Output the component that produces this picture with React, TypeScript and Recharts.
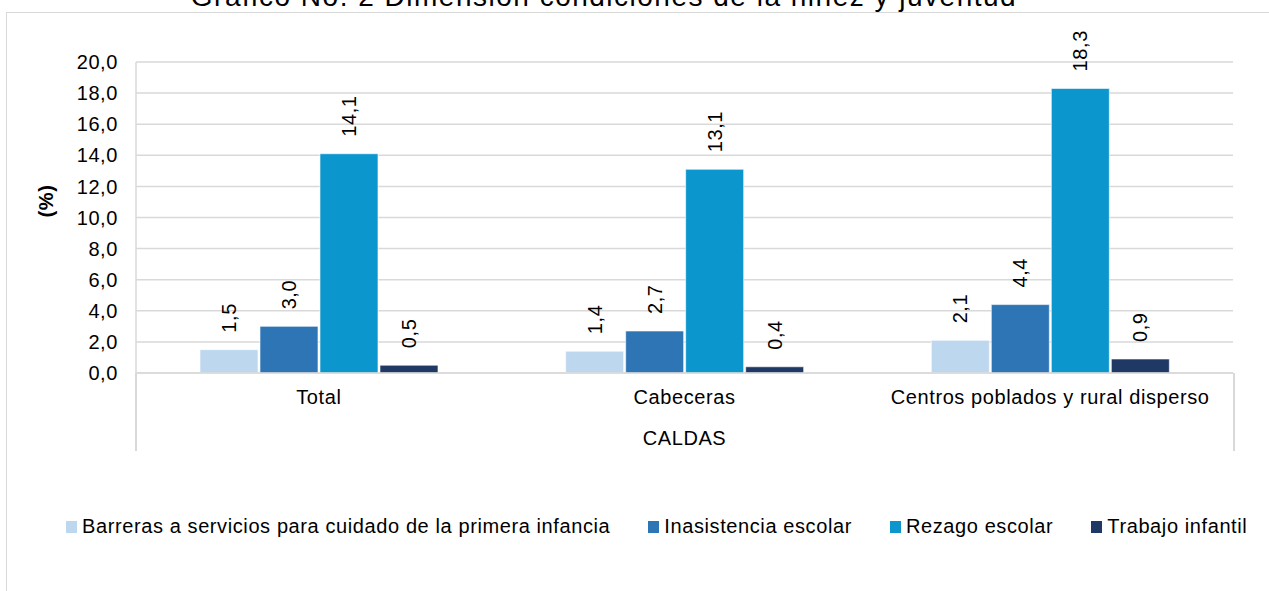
import { BarChart, Bar, XAxis, YAxis, CartesianGrid, LabelList } from 'recharts'

const categories = ['Total', 'Cabeceras', 'Centros poblados y rural disperso']
const groupLabel = 'CALDAS'
const barreras = [1.5, 1.4, 2.1]
const inasistencia = [3.0, 2.7, 4.4]
const rezago = [14.1, 13.1, 18.3]
const trabajo = [0.5, 0.4, 0.9]
const yTicks = [0, 2, 4, 6, 8, 10, 12, 14, 16, 18, 20]

const series = [
  { key: 'barreras', name: 'Barreras a servicios para cuidado de la primera infancia', color: '#bdd7ee' },
  { key: 'inasistencia', name: 'Inasistencia escolar', color: '#2e75b6' },
  { key: 'rezago', name: 'Rezago escolar', color: '#0b96ce' },
  { key: 'trabajo', name: 'Trabajo infantil', color: '#203864' },
]

const data = categories.map((c, i) => ({
  name: c,
  barreras: barreras[i],
  inasistencia: inasistencia[i],
  rezago: rezago[i],
  trabajo: trabajo[i],
}))

const fmt = (v: number) => v.toFixed(1).replace('.', ',')
const FONT = '"Liberation Sans", Arial, sans-serif'
const LS = 0.6
const tickStyle = { fill: '#000', fontSize: 20, letterSpacing: LS }

function VLabel(props: any) {
  const { x, y, width, value } = props
  const cx = x + width / 2
  const cy = y - 17
  return (
    <text
      x={cx}
      y={cy}
      transform={`rotate(-90 ${cx} ${cy})`}
      textAnchor="start"
      dominantBaseline="central"
      fontSize={20}
      letterSpacing={LS}
      fill="#000"
    >
      {fmt(value)}
    </text>
  )
}

export default function App() {
  return (
    <div style={{ position: 'absolute', left: 0, top: 0, width: 1269, height: 591, background: '#fff', fontFamily: FONT, overflow: 'hidden' }}>
      {/* outer frame */}
      <div style={{ position: 'absolute', left: 6, top: 12, width: 1300, height: 620, border: '1px solid #d9d9d9' }} />
      <div style={{ position: 'absolute', left: 0, width: 1208, top: -19, textAlign: 'center', fontSize: 28, letterSpacing: 1.5, color: '#000', whiteSpace: 'nowrap' }}>
        Gráfico No. 2 Dimensión condiciones de la niñez y juventud
      </div>

      <div style={{ position: 'absolute', left: 0, top: 0 }}>
        <BarChart
          width={1269}
          height={470}
          data={data}
          margin={{ top: 62, right: 36, left: 0, bottom: 17 }}
          barCategoryGap="17.5%"
          barGap={2}
          style={{ fontFamily: FONT }}
        >
          <CartesianGrid vertical={false} stroke="#d9d9d9" strokeWidth={1.5} />
          <XAxis
            dataKey="name"
            height={40}
            axisLine={{ stroke: '#d9d9d9', strokeWidth: 1.5 }}
            tickLine={false}
            tick={tickStyle}
            tickMargin={11}
          />
          <XAxis
            xAxisId="grp"
            dataKey="name"
            tickFormatter={(_v: any, i: number) => (i === 1 ? groupLabel : '')}
            height={40}
            axisLine={false}
            tickLine={false}
            tick={tickStyle}
            tickMargin={12}
          />
          <YAxis
            width={136}
            domain={[0, 20]}
            ticks={yTicks}
            tickFormatter={fmt}
            axisLine={{ stroke: '#d9d9d9', strokeWidth: 1.5 }}
            tickLine={false}
            tick={tickStyle}
            tickMargin={12}
            interval={0}
            label={{ value: '(%)', angle: -90, position: 'insideLeft', offset: 46, style: { fontWeight: 'bold', fontSize: 20, fill: '#000', letterSpacing: LS } }}
          />
          {series.map((s) => (
            <Bar key={s.key} dataKey={s.key} name={s.name} fill={s.color} stroke="#fff" strokeWidth={0.6} isAnimationActive={false}>
              <LabelList dataKey={s.key} content={<VLabel />} />
            </Bar>
          ))}
        </BarChart>
      </div>

      {/* category group separators */}
      <div style={{ position: 'absolute', left: 135, top: 373, width: 1.5, height: 78, background: '#d9d9d9' }} />
      <div style={{ position: 'absolute', left: 1233, top: 373, width: 1.5, height: 78, background: '#d9d9d9' }} />

      {/* legend */}
      <div style={{ position: 'absolute', left: 66, top: 515, display: 'flex', alignItems: 'center', fontSize: 20, letterSpacing: LS, color: '#000', whiteSpace: 'nowrap' }}>
        {series.map((s, i) => (
          <div key={s.key} style={{ display: 'flex', alignItems: 'center', marginRight: i < series.length - 1 ? 38 : 0 }}>
            <span style={{ display: 'inline-block', width: 11, height: 12, background: s.color, marginRight: 5 }} />
            {s.name}
          </div>
        ))}
      </div>
    </div>
  )
}
